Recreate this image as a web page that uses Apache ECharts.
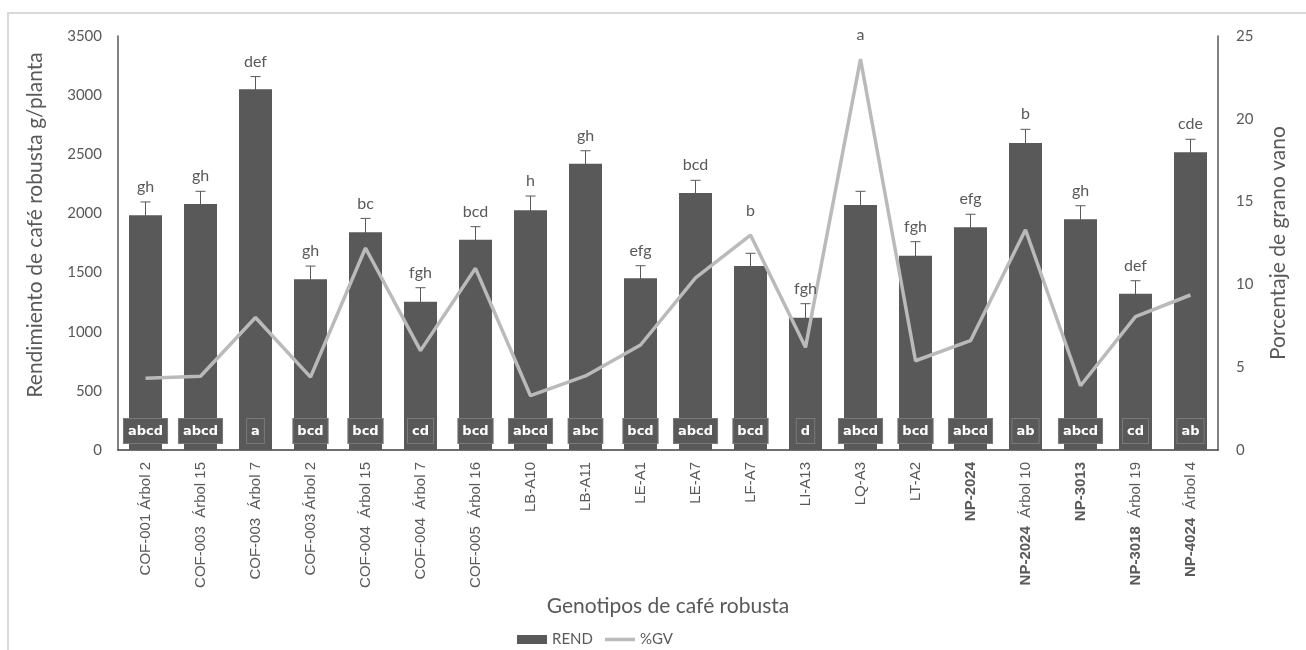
<!DOCTYPE html>
<html>
<head>
<meta charset="utf-8">
<script src="https://cdn.jsdelivr.net/npm/echarts@6/dist/echarts.min.js"></script>
<style>
  html, body { margin: 0; padding: 0; background: #fff; }
  #main { width: 1306px; height: 650px; }
</style>
</head>
<body>
<div id="main"></div>
<script>
// genotipos (eje x)
var genotipos = [
  'COF-001 Árbol 2', 'COF-003  Árbol 15', 'COF-003  Árbol 7', 'COF-003 Árbol 2',
  'COF-004  Árbol 15', 'COF-004  Árbol 7', 'COF-005  Árbol 16', 'LB-A10', 'LB-A11',
  'LE-A1', 'LE-A7', 'LF-A7', 'LI-A13', 'LQ-A3', 'LT-A2', 'NP-2024',
  'NP-2024  Árbol 10', 'NP-3013', 'NP-3018  Árbol 19', 'NP-4024  Árbol 4'
];
// rendimiento g/planta
var rend = [1985, 2080, 3050, 1443, 1840, 1254, 1778, 2026, 2420, 1451,
            2173, 1556, 1119, 2071, 1643, 1883, 2595, 1950, 1321, 2517];
// error estandar del rendimiento
var rendErr = [112, 107, 107, 112, 118, 118, 110, 121, 110, 107,
               107, 107, 118, 116, 118, 110, 116, 115, 110, 110];
// porcentaje de grano vano
var gv = [4.33, 4.45, 8.0, 4.4, 12.2, 6.0, 10.97, 3.28, 4.47, 6.34,
          10.4, 12.98, 6.2, 23.6, 5.39, 6.6, 13.3, 3.88, 8.05, 9.36];
// letras Tukey
var rendLetters = ['abcd', 'abcd', 'a', 'bcd', 'bcd', 'cd', 'bcd', 'abcd', 'abc', 'bcd',
                   'abcd', 'bcd', 'd', 'abcd', 'bcd', 'abcd', 'ab', 'abcd', 'cd', 'ab'];
var gvLetters = ['gh', 'gh', 'def', 'gh', 'bc', 'fgh', 'bcd', 'h', 'gh', 'efg',
                 'bcd', 'b', 'fgh', 'a', 'fgh', 'efg', 'b', 'gh', 'def', 'cde'];
var leftTicks = [0, 3500, 500];
var rightTicks = [0, 25, 5];

var TXT = '#595959';
var FONT = 'Lato, "Open Sans", sans-serif';
var ARIAL = '"Liberation Sans", Arial, sans-serif';

var myChart = echarts.init(document.getElementById('main'));

var errData = rend.map(function (v, i) { return [i, v, rendErr[i]]; });
var letterData = rend.map(function (v, i) { return [i, v, rendErr[i], gv[i]]; });

var option = {
  backgroundColor: '#fff',
  animation: false,
  textStyle: { fontFamily: FONT, color: TXT },
  graphic: [{
    type: 'rect',
    shape: { x: 8, y: 13, width: 1400, height: 700 },
    style: { fill: 'none', stroke: '#d9d9d9', lineWidth: 2 },
    silent: true
  }],
  grid: { left: 118, right: 88, top: 36, bottom: 200 },
  legend: {
    data: [
      { name: 'REND', icon: 'rect', itemStyle: { color: '#595959' } },
      { name: '%GV', icon: 'path://M0,0 H34 V4 H0 Z', itemStyle: { color: '#bababa' } }
    ],
    left: 512,
    top: 627,
    itemWidth: 30,
    itemHeight: 9,
    itemGap: 12,
    textStyle: { fontFamily: FONT, fontSize: 15, color: TXT }
  },
  xAxis: {
    type: 'category',
    data: genotipos,
    name: 'Genotipos de café robusta',
    nameLocation: 'middle',
    nameGap: 145,
    nameTextStyle: { fontFamily: FONT, fontSize: 21, color: TXT },
    axisLine: { lineStyle: { color: '#404040', width: 1.5 } },
    axisTick: { show: false },
    axisLabel: {
      interval: 0,
      rotate: 90,
      margin: 12,
      fontFamily: ARIAL,
      fontSize: 15,
      color: TXT,
      formatter: function (v) {
        if (v.indexOf('NP-') === 0) {
          var p = v.indexOf(' ');
          if (p < 0) return '{b|' + v + '}';
          return '{b|' + v.slice(0, p) + '}' + v.slice(p);
        }
        return v;
      },
      rich: {
        b: { fontWeight: 'bold', fontFamily: ARIAL, fontSize: 15, color: TXT }
      }
    }
  },
  yAxis: [{
    type: 'value',
    min: leftTicks[0],
    max: leftTicks[1],
    interval: leftTicks[2],
    name: 'Rendimiento de café robusta g/planta',
    nameLocation: 'middle',
    nameGap: 72,
    nameTextStyle: { fontFamily: FONT, fontSize: 21, color: TXT, padding: [0, 0, 0, 36] },
    axisLine: { show: true, lineStyle: { color: '#595959', width: 1.5 } },
    axisTick: { show: false },
    splitLine: { show: false },
    axisLabel: {
      margin: 16, fontFamily: FONT, fontSize: 15, color: TXT,
      formatter: function (v) { return String(v); }
    }
  }, {
    type: 'value',
    min: rightTicks[0],
    max: rightTicks[1],
    interval: rightTicks[2],
    name: 'Porcentaje de grano vano',
    nameLocation: 'middle',
    nameGap: 50,
    nameTextStyle: { fontFamily: FONT, fontSize: 21, color: TXT },
    axisLine: { show: true, lineStyle: { color: '#595959', width: 1.5 } },
    axisTick: { show: false },
    splitLine: { show: false },
    axisLabel: {
      margin: 18, fontFamily: FONT, fontSize: 15, color: TXT,
      formatter: function (v) { return String(v); }
    }
  }],
  series: [
    {
      name: 'REND',
      type: 'bar',
      data: rend,
      barWidth: '60%',
      itemStyle: { color: '#595959' },
      label: {
        show: true,
        position: 'insideBottom',
        distance: 7,
        formatter: function (p) { return rendLetters[p.dataIndex]; },
        color: '#fff',
        fontFamily: '"DejaVu Sans", sans-serif',
        fontWeight: 'bold',
        fontSize: 13,
        backgroundColor: '#595959',
        borderColor: '#7a7a7a',
        borderWidth: 1,
        padding: [6, 4, 5, 4]
      },
      z: 2
    },
    {
      name: 'error',
      type: 'custom',
      data: errData,
      z: 3,
      silent: true,
      renderItem: function (params, api) {
        var i = api.value(0), v = api.value(1), e = api.value(2);
        var top = api.coord([i, v + e]);
        var bot = api.coord([i, v - e]);
        var s = { stroke: '#595959', lineWidth: 1 };
        return {
          type: 'group',
          children: [
            { type: 'line', shape: { x1: top[0], y1: top[1], x2: bot[0], y2: bot[1] }, style: s },
            { type: 'line', shape: { x1: top[0] - 5, y1: top[1], x2: top[0] + 5, y2: top[1] }, style: s },
            { type: 'line', shape: { x1: bot[0] - 5, y1: bot[1], x2: bot[0] + 5, y2: bot[1] }, style: s }
          ]
        };
      }
    },
    {
      name: '%GV',
      type: 'line',
      yAxisIndex: 1,
      data: gv,
      symbol: 'none',
      lineStyle: { color: '#bababa', width: 3.5 },
      itemStyle: { color: '#bababa' },
      z: 4
    },
    {
      name: 'letras',
      type: 'custom',
      data: letterData,
      z: 5,
      silent: true,
      renderItem: function (params, api) {
        var i = api.value(0), v = api.value(1), e = api.value(2), g = api.value(3);
        var w = api.coord([i, v + e]);
        var l = api.coord([i, g * leftTicks[1] / rightTicks[1]]);
        var y = Math.min(w[1] - 15, l[1] - 24);
        return {
          type: 'text',
          x: w[0],
          y: y,
          style: {
            text: gvLetters[params.dataIndex],
            align: 'center',
            verticalAlign: 'middle',
            fill: TXT,
            font: '16px ' + FONT
          }
        };
      }
    }
  ]
};

myChart.setOption(option);
</script>
</body>
</html>
